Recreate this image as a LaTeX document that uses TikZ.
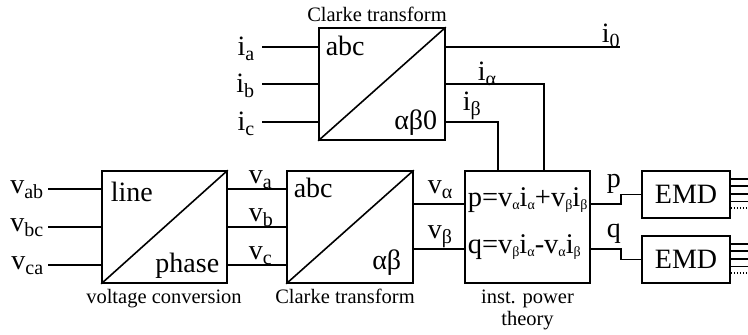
\documentclass[tikz,border=0pt]{standalone}
\usepackage{fontspec}
\setmainfont{Liberation Serif}
\usetikzlibrary{calc}
\newcommand\Lb[2]{{\fontsize{28}{28}\selectfont #1}\raisebox{-5pt}{\fontsize{20}{20}\selectfont #2}}
\newcommand\Fs[1]{\raisebox{-3pt}{\fontsize{14}{14}\selectfont #1}}
\begin{document}
\begin{tikzpicture}[x=1pt,y=-1pt, line width=1.6pt,
  box/.style={draw, line width=1.6pt, minimum width=125pt, minimum height=112pt, inner sep=0pt},
  emdbox/.style={draw, line width=1.6pt, minimum width=88pt, minimum height=47pt, inner sep=0pt, font=\fontsize{28}{28}\selectfont},
  lbl/.style={inner sep=0pt, anchor=base west},
  lble/.style={inner sep=0pt, anchor=base east},
  big/.style={inner sep=0pt, font=\fontsize{28}{28}\selectfont},
  formula/.style={inner sep=0pt, anchor=base west, font=\fontsize{28.5}{28.5}\selectfont},
  captxt/.style={inner sep=0pt, anchor=base, font=\fontsize{20.5}{22}\selectfont}]
\useasboundingbox (0,0) rectangle (748,335);
% boxes
\node[box] (vc) at (164.5,227) {};
\node[box, minimum width=126pt] (ck2) at (350,227) {};
\node[box, minimum width=126pt] (ck1) at (382,84) {};
\node[box] (ip) at (527.5,227) {};
\node[emdbox] (e1) at (686,194.5) {EMD};
\node[emdbox] (e2) at (686,259.5) {EMD};
% diagonals
\draw (vc.south west) -- (vc.north east);
\draw (ck2.south west) -- (ck2.north east);
\draw (ck1.south west) -- (ck1.north east);
% inner labels
\node[big, anchor=base west] (tline) at (110,201) {line};
\node[big, anchor=base east] (tphase) at (220,272) {phase};
\node[big, anchor=base west] (tabc2) at (293,197) {abc};
\node[big, anchor=base east] (tab2) at (402,269) {αβ};
\node[big, anchor=base west] (tabc1) at (325,55) {abc};
\node[big, anchor=base east] (tab1) at (438,129) {αβ0};
\node[formula] (fp) at (467,206) {p=v\Fs{α}i\Fs{α}+v\Fs{β}i\Fs{β}};
\node[formula] (fq) at (467,253) {q=v\Fs{β}i\Fs{α}-v\Fs{α}i\Fs{β}};
% captions
\node[captxt] (cap1) at (377,21) {Clarke transform};
\node[captxt] (cap2) at (164,303) {voltage conversion};
\node[captxt] (cap3) at (345,303) {Clarke transform};
\node[captxt, align=center] (cap4) at (527.5,325) {inst. power\\theory};
% voltage inputs
\coordinate (a1) at (48,189);
\coordinate (a2) at (48,227);
\coordinate (a3) at (48,265);
\node[lble] (la1) at (44,193) {\Lb{v}{ab}};
\node[lble] (la2) at (44,231) {\Lb{v}{bc}};
\node[lble] (la3) at (44,269) {\Lb{v}{ca}};
\draw (a1) -- (a1 -| vc.west);
\draw (a2) -- (a2 -| vc.west);
\draw (a3) -- (a3 -| vc.west);
% phase voltages
\draw (a1 -| vc.east) -- (a1 -| ck2.west);
\draw (a2 -| vc.east) -- (a2 -| ck2.west);
\draw (a3 -| vc.east) -- (a3 -| ck2.west);
\node[lbl] (lva) at (248,183) {\Lb{v}{a}};
\node[lbl] (lvb) at (248,221) {\Lb{v}{b}};
\node[lbl] (lvc) at (248,259) {\Lb{v}{c}};
% alpha beta voltages
\draw ($(ck2.east)+(0,-23)$) -- ($(ip.west)+(0,-23)$);
\draw ($(ck2.east)+(0,22)$) -- ($(ip.west)+(0,22)$);
\node[lbl] (lval) at (427,193) {\Lb{v}{α}};
\node[lbl] (lvbe) at (427,238) {\Lb{v}{β}};
% current inputs
\coordinate (b1) at (262,47);
\coordinate (b2) at (262,84);
\coordinate (b3) at (262,122);
\node[lble] (lb1) at (255,55) {\Lb{i}{a}};
\node[lble] (lb2) at (255,92) {\Lb{i}{b}};
\node[lble] (lb3) at (255,130) {\Lb{i}{c}};
\draw (b1) -- (b1 -| ck1.west);
\draw (b2) -- (b2 -| ck1.west);
\draw (b3) -- (b3 -| ck1.west);
% current outputs
\coordinate (i0e) at (620,47);
\draw (i0e -| ck1.east) -- (i0e);
\node[lbl] (li0) at (601,42) {\Lb{i}{0}};
\draw (ck1.east) -| ($(ip.north west)+(80,0)$);
\draw ($(ck1.east)+(0,38)$) -| ($(ip.north west)+(34,0)$);
\node[lbl] (lial) at (477,80) {\Lb{i}{α}};
\node[lbl] (libe) at (462,110) {\Lb{i}{β}};
% p q
\draw ($(ip.east)+(0,-23)$) -- ++(30,0) |- (e1.west);
\draw ($(ip.east)+(0,22)$) -- ++(30,0) |- (e2.west);
\node[lbl, font=\fontsize{28}{28}\selectfont] (lp) at (606,187) {p};
\node[lbl, font=\fontsize{28}{28}\selectfont] (lq) at (606,237) {q};
% EMD outputs
\foreach \e in {e1,e2}{
  \foreach \d in {8.7,16,24,31.3}{
    \draw (\e.north east) ++(0,\d) -- ++(18,0);
  }
  \draw[dash pattern=on 1.5pt off 1.5pt] (\e.north east) ++(0,38) -- ++(18,0);
}
\end{tikzpicture}
\end{document}
